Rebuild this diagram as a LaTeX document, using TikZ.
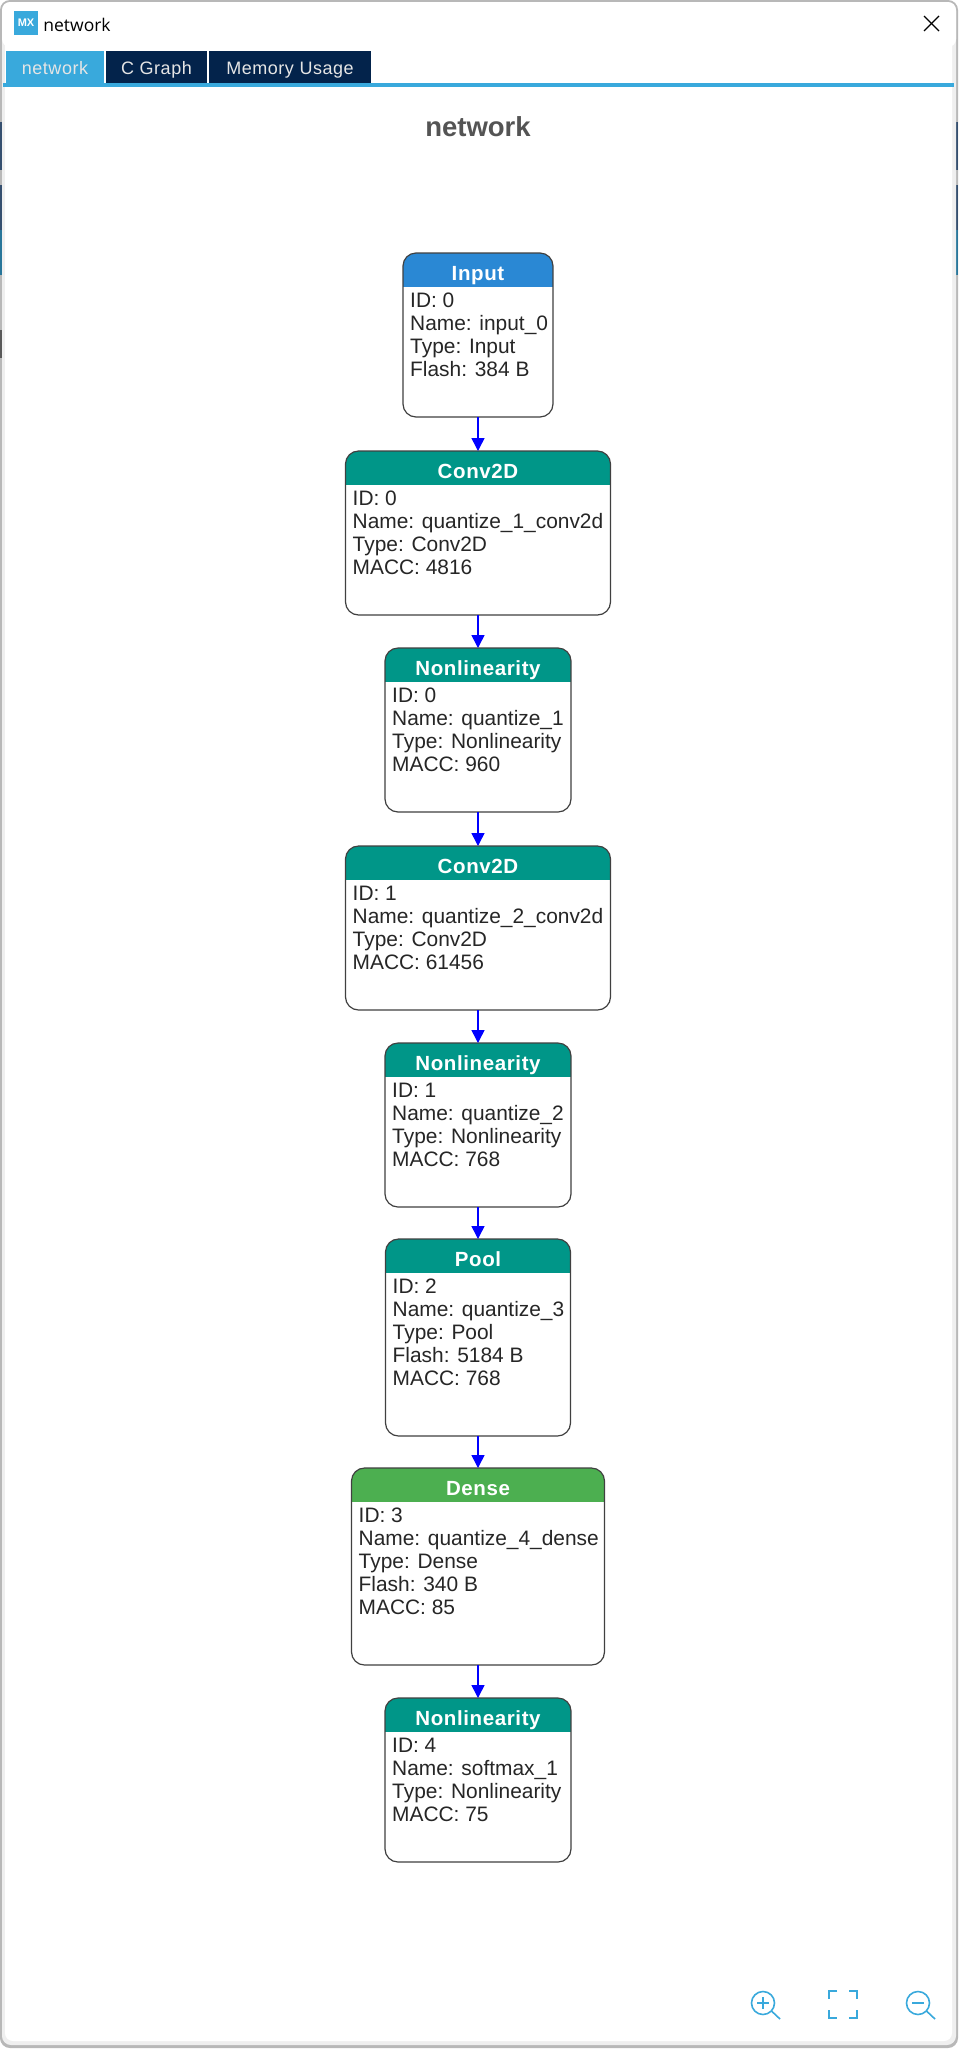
\documentclass[tikz,border=0pt]{standalone}
\usepackage{fontspec}
\setmainfont{Liberation Sans}
\newfontfamily\winfont{Open Sans}
\newfontfamily\spacedfont[LetterSpace=3]{Liberation Sans}
\usepackage{xcolor}
\usepackage{tikz}
\usetikzlibrary{arrows.meta, positioning, calc}

\definecolor{tabblue}{HTML}{39A9DC}
\definecolor{tabnavy}{HTML}{03234B}
\definecolor{inputblue}{HTML}{2A88D4}
\definecolor{layerteal}{HTML}{009688}
\definecolor{densegreen}{HTML}{4CAF50}
\definecolor{edgegray}{HTML}{B8B8B8}
\definecolor{innergray}{HTML}{EFEFEF}

\begin{document}
\begin{tikzpicture}[x=1pt, y=-1pt, node distance=33pt]
    \tikzstyle{block} = [rectangle, draw=black!75, line width=1.2pt, fill=white, rounded corners=13pt,
                         outer sep=0pt, inner sep=0pt,
                         path picture={\fill[#1, sharp corners] (path picture bounding box.north west) rectangle
                                       ([yshift=-34pt]path picture bounding box.north east);}]
    \tikzstyle{title} = [text=white, font=\fontsize{20.5}{20.5}\spacedfont\bfseries, anchor=center,
                         inner sep=0pt, text height=15pt, text depth=0pt]
    \tikzstyle{info} = [align=left, anchor=north west, inner sep=0pt, text=black!85,
                        font=\fontsize{20.9}{23}\selectfont]
    \tikzstyle{tabitem} = [minimum height=32pt, inner sep=0pt, outer sep=0pt, text=white!90!black,
                           text height=14pt, text depth=0pt, font=\fontsize{18}{18}\spacedfont]
    \tikzstyle{link} = [-{Triangle[width=13pt,length=13pt]}, blue, line width=1.5pt]
    \tikzstyle{toolicon} = [tabblue, line width=1.6pt]

    % window
    \useasboundingbox (0,0) rectangle (960,2051);
    \fill[white] (0,0) rectangle (960,2051);
    \fill[edgegray, rounded corners=10pt] (0,0) rectangle (958,2048);
    \fill[tabnavy!80] (0,122) rectangle (2,170);
    \fill[tabnavy!80] (0,185) rectangle (2,230);
    \fill[tabblue!70!black] (0,230) rectangle (2,275);
    \fill[black!65] (0,330) rectangle (2,358);
    \fill[tabnavy!80] (956,122) rectangle (958,170);
    \fill[tabnavy!80] (956,185) rectangle (958,230);
    \fill[tabblue!70!black] (956,230) rectangle (958,275);
    \fill[innergray, rounded corners=9pt] (2,2) rectangle (956,2045);
    \fill[white, rounded corners=8pt] (5,2) rectangle (952,2041);
    \fill[white, rounded corners=8pt] (2,2) rectangle (956,47);

    % title bar
    \node [fill=tabblue, text=white, minimum size=24pt, inner sep=0pt, font=\fontsize{11}{11}\selectfont\bfseries] (logo) at (26,23) {MX};
    \node [right=5pt of logo, yshift=-2pt, inner sep=0pt, font=\fontsize{17.5}{17.5}\winfont] (wintitle) {network};
    \coordinate (closea) at (924,16);
    \coordinate (closeb) at (939,31);
    \draw[line width=1.1pt] (closea) -- (closeb);
    \draw[line width=1.1pt] (closea |- closeb) -- (closeb |- closea);

    % tabs
    \node [tabitem, fill=tabblue, minimum width=98pt] (tabnet) at (55,67) {network};
    \node [tabitem, fill=tabnavy, minimum width=101pt, right=2pt of tabnet] (tabc) {C Graph};
    \node [tabitem, fill=tabnavy, minimum width=162pt, right=2pt of tabc] (tabmem) {Memory Usage};
    \fill[tabblue] (3,83) rectangle (954,87);
    \node [text=black!67, font=\fontsize{27.5}{27.5}\selectfont\bfseries] (heading) at (478,127) {network};

    % layers
    \node [block=inputblue, minimum width=150pt, minimum height=164pt] (input) at (478,335) {};
    \node [block=layerteal, minimum width=265pt, minimum height=164pt, below=34pt of input] (convone) {};
    \node [block=layerteal, minimum width=186pt, minimum height=164pt, below=of convone] (nlone) {};
    \node [block=layerteal, minimum width=265pt, minimum height=164pt, below=34pt of nlone] (convtwo) {};
    \node [block=layerteal, minimum width=186pt, minimum height=164pt, below=of convtwo] (nltwo) {};
    \node [block=layerteal, minimum width=185pt, minimum height=197pt, below=32pt of nltwo] (pool) {};
    \node [block=densegreen, minimum width=253pt, minimum height=197pt, below=32pt of pool] (dense) {};
    \node [block=layerteal, minimum width=186pt, minimum height=164pt, below=of dense] (nlthree) {};

    \node [title] (inputtitle) at ([yshift=-20pt]input.north) {Input};
    \node [title] (convonetitle) at ([yshift=-20pt]convone.north) {Conv2D};
    \node [title] (nlonetitle) at ([yshift=-20pt]nlone.north) {Nonlinearity};
    \node [title] (convtwotitle) at ([yshift=-20pt]convtwo.north) {Conv2D};
    \node [title] (nltwotitle) at ([yshift=-20pt]nltwo.north) {Nonlinearity};
    \node [title] (pooltitle) at ([yshift=-20pt]pool.north) {Pool};
    \node [title] (densetitle) at ([yshift=-20pt]dense.north) {Dense};
    \node [title] (nlthreetitle) at ([yshift=-20pt]nlthree.north) {Nonlinearity};

    \node [info] (inputinfo) at ([xshift=7pt,yshift=-40pt]input.north west) {ID: 0\\Name: input\_0\\Type: Input\\Flash: 384 B};
    \node [info] (convoneinfo) at ([xshift=7pt,yshift=-40pt]convone.north west) {ID: 0\\Name: quantize\_1\_conv2d\\Type: Conv2D\\MACC: 4816};
    \node [info] (nloneinfo) at ([xshift=7pt,yshift=-40pt]nlone.north west) {ID: 0\\Name: quantize\_1\\Type: Nonlinearity\\MACC: 960};
    \node [info] (convtwoinfo) at ([xshift=7pt,yshift=-40pt]convtwo.north west) {ID: 1\\Name: quantize\_2\_conv2d\\Type: Conv2D\\MACC: 61456};
    \node [info] (nltwoinfo) at ([xshift=7pt,yshift=-40pt]nltwo.north west) {ID: 1\\Name: quantize\_2\\Type: Nonlinearity\\MACC: 768};
    \node [info] (poolinfo) at ([xshift=7pt,yshift=-40pt]pool.north west) {ID: 2\\Name: quantize\_3\\Type: Pool\\Flash: 5184 B\\MACC: 768};
    \node [info] (denseinfo) at ([xshift=7pt,yshift=-40pt]dense.north west) {ID: 3\\Name: quantize\_4\_dense\\Type: Dense\\Flash: 340 B\\MACC: 85};
    \node [info] (nlthreeinfo) at ([xshift=7pt,yshift=-40pt]nlthree.north west) {ID: 4\\Name: softmax\_1\\Type: Nonlinearity\\MACC: 75};

    \draw[link] (input) -- (convone);
    \draw[link] (convone) -- (nlone);
    \draw[link] (nlone) -- (convtwo);
    \draw[link] (convtwo) -- (nltwo);
    \draw[link] (nltwo) -- (pool);
    \draw[link] (pool) -- (dense);
    \draw[link] (dense) -- (nlthree);

    % zoom buttons
    \draw[toolicon] (763,2003) circle (11.5);
    \draw[toolicon] (771.5,2011) -- (780,2019);
    \draw[toolicon] (757,2003) -- (769,2003);
    \draw[toolicon] (763,1997) -- (763,2009);
    \draw[toolicon] (837,1991) -- (829,1991) -- (829,1999);
    \draw[toolicon] (849,1991) -- (857,1991) -- (857,1999);
    \draw[toolicon] (829,2010) -- (829,2018) -- (837,2018);
    \draw[toolicon] (857,2010) -- (857,2018) -- (849,2018);
    \draw[toolicon] (918,2003) circle (11.5);
    \draw[toolicon] (926.5,2011) -- (935,2019);
    \draw[toolicon] (912,2003) -- (924,2003);
\end{tikzpicture}
\end{document}
